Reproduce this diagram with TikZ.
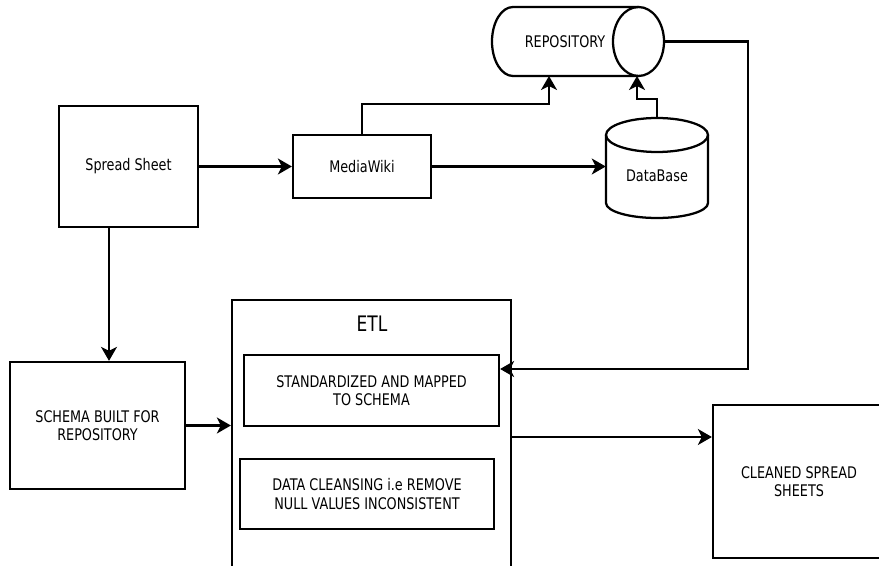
\documentclass[tikz,border=0pt]{standalone}
\usepackage{fontspec}
\setmainfont{DejaVu Sans}[FakeStretch=0.8]
\usepackage{tikz}
\usetikzlibrary{arrows.meta}
\usetikzlibrary{shapes.geometric}

\begin{document}
\begin{tikzpicture}[x=0.75pt,y=0.75pt,yscale=-1,xscale=1,
  box/.style={draw,line width=1.7pt,inner sep=0.75pt,align=center,font=\fontsize{12}{13.7}\selectfont},
  txt/.style={inner sep=0.75pt,align=center,font=\fontsize{12}{13.7}\selectfont},
  arr/.style={line width=1.7pt,-{Stealth[length=10.5pt,width=12pt,inset=3pt]}}]
\useasboundingbox (0,0) rectangle (879,566);
\clip (0,0) rectangle (879,566);

%Shape: Rectangle
\node [box,minimum width=104.25pt,minimum height=90.75pt] (sheet) at (128.5,166.5) {Spread Sheet};
%Shape: Rectangle
\node [box,minimum width=103.5pt,minimum height=47.25pt] (wiki) at (362,166.5) {MediaWiki};

%Shape: Horizontal Cylinder
\node [draw,ellipse,line width=1.7pt,inner sep=0pt,outer sep=0pt,minimum width=38.25pt,minimum height=51.75pt] (repoend) at (638.5,41.5) {};
\draw [line width=1.7pt] (repoend.north) -- (513,7) arc [start angle=270,end angle=90,x radius=21,y radius=34.5] -- (repoend.south);
\node [txt] (repo) at (565,41.5) {REPOSITORY};

%Shape: Can
\draw [line width=1.7pt] (657,135) ellipse [x radius=51,y radius=17];
\draw [line width=1.7pt] (606,135) -- (606,203) arc [start angle=180,end angle=0,x radius=51,y radius=15] -- (708,135);
\node [txt,minimum width=76.5pt,minimum height=87pt] (db) at (657,176) {DataBase};

%Shape: Rectangle
\node [box,minimum width=131.25pt,minimum height=95.25pt] (schema) at (97.5,425.5) {SCHEMA BUILT FOR\\REPOSITORY};
%Shape: Rectangle
\node [box,minimum width=209.25pt,minimum height=201pt] (etl) at (371.5,434) {};
% Text Node
\node [font=\fontsize{16}{19}\selectfont,inner sep=0.75pt] (etltitle) at (372,324) {ETL};
%Shape: Rectangle
\node [box,minimum width=191.25pt,minimum height=53.25pt] (std) at (371.5,390.5) {STANDARDIZED AND MAPPED\\TO SCHEMA};
%Shape: Rectangle
\node [box,minimum width=190.5pt,minimum height=52.5pt] (clean) at (367,494) {DATA CLEANSING i.e REMOVE\\NULL VALUES INCONSISTENT};
%Shape: Rectangle
\node [box,minimum width=129pt,minimum height=114.75pt] (cleaned) at (799,481.5) {CLEANED SPREAD\\SHEETS};

\coordinate (repoA) at (549,76);
\coordinate (repoB) at (637,76);
\coordinate (bend) at (748,369);

%Straight Lines
\draw [arr] (sheet) -- (wiki);
\draw [arr] (109,0 |- sheet.south) -- (109,0 |- schema.north);
\draw [arr] (schema.east) -- (schema.east -| etl.west);
\draw [arr] (wiki.east) -- (wiki.east -| db.west);
\draw [arr] (wiki.north) -- ++(0,-30) -| (repoA);
\draw [arr] (db.north) -- ++(0,-19) -| (repoB);
\draw [arr] (repoend.east) -| (bend) -- (bend -| std.east);
\draw [arr] (etl.east |- 0,437) -- (cleaned.west |- 0,437);

\end{tikzpicture}
\end{document}
